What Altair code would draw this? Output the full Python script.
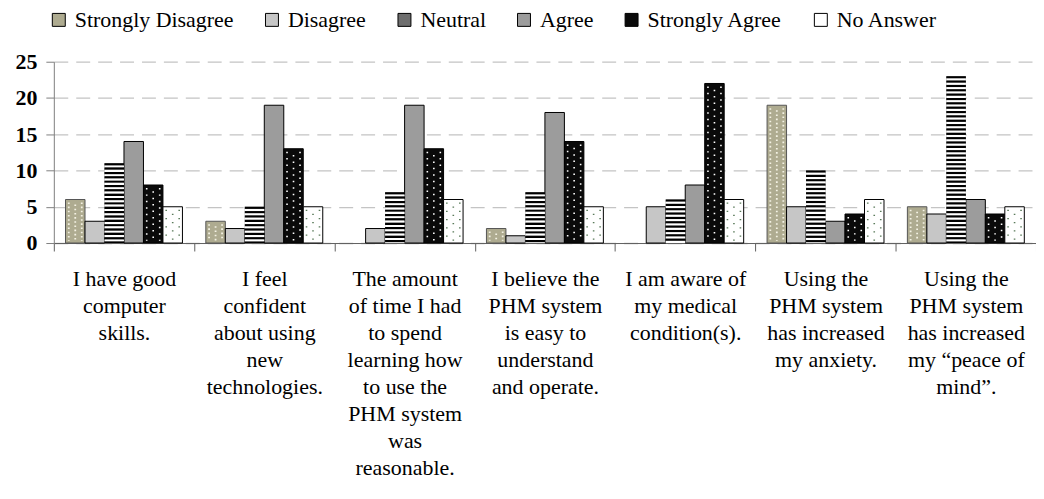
import altair as alt
import pandas as pd

# ---- data ----
categories = [
    "I have good\ncomputer\nskills.",
    "I feel\nconfident\nabout using\nnew\ntechnologies.",
    "The amount\nof time I had\nto spend\nlearning how\nto use the\nPHM system\nwas\nreasonable.",
    "I believe the\nPHM system\nis easy to\nunderstand\nand operate.",
    "I am aware of\nmy medical\ncondition(s).",
    "Using the\nPHM system\nhas increased\nmy anxiety.",
    "Using the\nPHM system\nhas increased\nmy \u201cpeace of\nmind\u201d.",
]
series = ["Strongly Disagree", "Disagree", "Neutral", "Agree", "Strongly Agree", "No Answer"]
strongly_disagree = [6, 3, 0, 2, 0, 19, 5]
disagree = [3, 2, 2, 1, 5, 5, 4]
neutral = [11, 5, 7, 7, 6, 10, 23]
agree = [14, 19, 19, 18, 8, 3, 6]
strongly_agree = [8, 13, 13, 14, 22, 4, 4]
no_answer = [5, 5, 6, 5, 6, 6, 5]
y_ticks = [0, 5, 10, 15, 20, 25]

fill_colors = ["#aeab90", "#c6c6c6", "#6e6e6e", "#9c9c9c", "#0a0a0a", "#ffffff"]
FONT = "Liberation Serif"

values_by_series = [strongly_disagree, disagree, neutral, agree, strongly_agree, no_answer]
rows = []
for s, vals in zip(series, values_by_series):
    for c, v in zip(categories, vals):
        rows.append({"category": c, "series": s, "value": v})
df = pd.DataFrame(rows)

# sub-slots (3 dot columns per bar) for the dotted textures, with one spacer slot at each end
sub_slots = ["_start"] + [f"{s}|{c}" for s in series for c in range(3)] + ["_end"]

x_enc = alt.X(
    "category:N",
    sort=categories,
    scale=alt.Scale(paddingInner=0, paddingOuter=0),
    axis=alt.Axis(
        title=None,
        labelAngle=0,
        tickBand="extent",
        tickSize=8,
        tickColor="#606060",
        domainColor="#606060",
        labelFont=FONT,
        labelFontSize=22,
        labelColor="black",
        labelLineHeight=27,
        labelPadding=18,
        labelLimit=200,
        labelExpr="split(datum.label, '\\n')",
        grid=False,
    ),
)
xo_enc = alt.XOffset("series:N", sort=series,
                     scale=alt.Scale(domain=series, paddingInner=0, paddingOuter=0.6))
y_scale = alt.Scale(domain=[0, 25], nice=False)
y_axis = alt.Axis(
    title=None,
    values=y_ticks,
    grid=True,
    gridDash=[14, 8],
    gridColor="#c4c4c4",
    gridWidth=1.3,
    domainColor="#808080",
    tickColor="#808080",
    tickSize=8,
    labelFont=FONT,
    labelFontSize=22,
    labelFontWeight="bold",
    labelColor="black",
    labelPadding=9,
    labelOverlap=False,
)

base = alt.Chart(df)

bars = base.transform_filter("datum.value > 0").mark_bar(strokeWidth=1).encode(
    x=x_enc,
    xOffset=xo_enc,
    y=alt.Y("value:Q", scale=y_scale, axis=y_axis),
    fill=alt.Fill(
        "series:N",
        sort=series,
        scale=alt.Scale(domain=series, range=fill_colors),
        legend=alt.Legend(
            orient="none",
            legendX=-6,
            legendY=-53,
            direction="horizontal",
            columns=6,
            title=None,
            labelFont=FONT,
            labelFontSize=22,
            labelColor="black",
            labelOffset=5,
            labelLimit=300,
            symbolSize=169,
            symbolType="square",
            symbolStrokeColor="black",
            symbolStrokeWidth=1,
            columnPadding=27,
        ),
    ),
    stroke=alt.condition("datum.series == 'Strongly Disagree'", alt.value("#555555"), alt.value("black")),
    strokeOpacity=alt.condition("datum.series == 'Neutral'", alt.value(0), alt.value(1)),
)

# horizontal stripes for "Neutral"
stripes = (
    base.transform_filter("datum.series == 'Neutral' && datum.value > 0")
    .transform_calculate(k="sequence(0, ceil(datum.value / 0.3))")
    .transform_flatten(["k"])
    .transform_calculate(
        top="datum.value - datum.k * 0.3",
        bot="max(0, datum.value - datum.k * 0.3 - 0.3)",
        col="datum.k % 2 == 0 ? 'black' : 'white'",
    )
    .transform_filter("datum.top > 0")
    .mark_bar()
    .encode(
        x=x_enc,
        xOffset=xo_enc,
        y=alt.Y("top:Q", scale=y_scale, axis=y_axis),
        y2="bot:Q",
        fill=alt.Fill("col:N", scale=None, legend=None),
    )
)

sub_xo = alt.XOffset("slot:N", sort=sub_slots,
                     scale=alt.Scale(domain=sub_slots, paddingInner=0, paddingOuter=0.8))


def dot_layer(name, color, dash, stagger, width=1.6):
    return (
        base.transform_filter(f"datum.series == '{name}' && datum.value > 0")
        .transform_calculate(c="sequence(0, 3)")
        .transform_flatten(["c"])
        .transform_calculate(
            slot="datum.series + '|' + datum.c",
            yt=f"datum.value - 0.4 - (datum.c % 2) * {stagger}",
            yb="0.3",
        )
        .mark_rule(stroke=color, strokeWidth=width, strokeDash=dash)
        .encode(x=x_enc, xOffset=sub_xo,
                y=alt.Y("yt:Q", scale=y_scale, axis=y_axis), y2="yb:Q")
    )


sd = dot_layer("Strongly Disagree", "#f4f2e4", [1.6, 2.6], 0.29, 1.8)
sa = dot_layer("Strongly Agree", "white", [1.5, 5.0], 0.45)
na = dot_layer("No Answer", "#5a7a5a", [1.3, 7.0], 0.55)

dots = alt.layer(sd, sa, na)

chart = (
    alt.layer(alt.layer(bars, stripes), dots)
    .resolve_scale(xOffset="independent")
    .properties(
        width=986,
        height=182,
        padding={"left": 46, "top": 53, "right": 0, "bottom": 245},
        autosize=alt.AutoSizeParams(type="none"),
    )
    .configure_view(strokeWidth=0)
)

chart.save("out.html", embed_options={"renderer": "svg", "actions": False})
